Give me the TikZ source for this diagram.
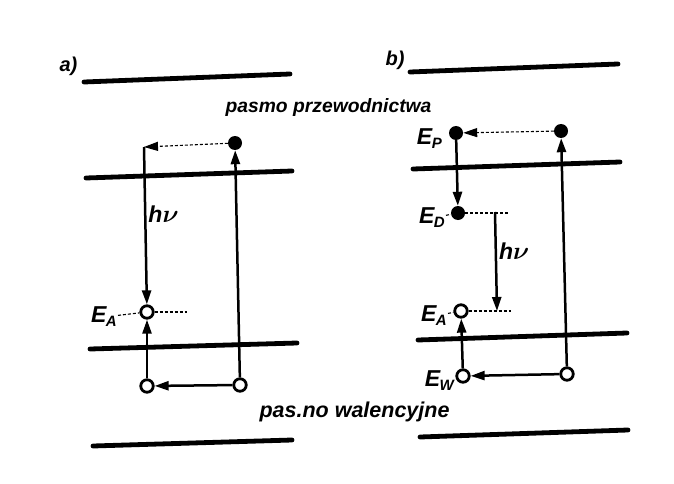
\documentclass[tikz,border=0pt]{standalone}
\usepackage{amsmath}
\usepackage{fontspec}
\setmainfont{Liberation Sans}
\usepackage{tikz}
\usetikzlibrary{arrows.meta,positioning,calc}

\newcommand\lev[1]{E\kern-0.5pt\raisebox{-4pt}{\fontsize{15}{15}\selectfont #1}}

\begin{document}
\begin{tikzpicture}[x=1pt,y=-1pt,>={Triangle[length=14pt,width=9pt]},
		band/.style={line width=4.8pt,line cap=round},
		trans/.style={line width=2.5pt},
		lvl/.style={densely dashed,line width=1.1pt},
		elec/.style={circle,fill,inner sep=0pt,minimum size=14pt},
		hole/.style={circle,draw,fill=white,line width=2.8pt,inner sep=0pt,minimum size=12.5pt},
		lab/.style={font=\fontsize{20}{24}\selectfont\bfseries\itshape},
		elab/.style={font=\fontsize{23}{26}\selectfont\bfseries\itshape,anchor=east,inner sep=1pt},
	]
	\useasboundingbox (0,0) rectangle (674,484);

	% band names
	\node[lab,font=\fontsize{19.3}{24}\selectfont\bfseries\itshape,anchor=base west] (cb) at (222,113) {pasmo przewodnictwa};
	\node[lab,font=\fontsize{21.5}{24}\selectfont\bfseries\itshape,anchor=base west] (vb) at (256,417) {pas.no walencyjne};

	% a) acceptor level
	\node[lab,anchor=base west] (la) at (56,72) {a)};
	\draw[band] (84,82) -- (290,74);
	\draw[band] (86,178) -- (292,171);
	\draw[band] (90,349) -- (297,343);
	\draw[band] (93,446) -- (292,440);

	\node[elec] (aC) at (235,143) {};
	\node[hole] (aV) at (240,385) {};
	\node[hole] (aA) at (147,312) {};
	\node[hole] (aW) at (147,386) {};
	\coordinate (aT) at (144,147);
	\node[elab] (aAl) at (118,317) {\lev{A}};

	\draw[lvl] (aAl) -- (aA);
	\draw[lvl] (aA) -- ++(40,0);
	\path[trans,->]
		(aV) edge (aC)
			 edge (aW)
		(aW) edge (aA)
	;
	\draw[lvl,->] (aC) -- (aT);
	\draw[trans,->] (aT) -- node[elab,anchor=west,pos=0.43,right=1pt] {h$\boldsymbol{\nu}$} (aA);

	% b) donor and acceptor levels
	\node[lab,anchor=base west] (lb) at (382,66) {b)};
	\draw[band] (410,72) -- (618,64);
	\draw[band] (413,169) -- (620,162);
	\draw[band] (418,340) -- (627,333);
	\draw[band] (420,437) -- (628,430);

	\node[elec] (bP) at (456,133) {};
	\node[elec] (bC) at (561,131) {};
	\node[elec] (bD) at (458,213) {};
	\node[hole] (bA) at (461,311) {};
	\node[hole] (bW) at (463,376) {};
	\node[hole] (bV) at (567,374) {};
	\coordinate (bHt) at (495,212);
	\coordinate (bHb) at (497,311);

	\node[elab] (bPl) at (443,139) {\lev{P}};
	\node[elab] (bDl) at (446,218) {\lev{D}};
	\node[elab] (bAl) at (448,316) {\lev{A}};
	\node[elab] (bWl) at (455,381) {\lev{W}};

	\draw[lvl] (bDl) -- (bD);
	\draw[lvl] (bD) -- ++(52,0);
	\draw[lvl] (bAl) -- (bA);
	\draw[lvl] (bA) -- ++(50,0);
	\path[trans,->]
		(bV) edge (bC)
			 edge (bW)
		(bW) edge (bA)
		(bP) edge (bD)
	;
	\draw[lvl,->] (bC) -- (bP);
	\draw[trans,->] (bHt) -- node[elab,anchor=west,pos=0.4,right=1pt] {h$\boldsymbol{\nu}$} (bHb);
\end{tikzpicture}
\end{document}
